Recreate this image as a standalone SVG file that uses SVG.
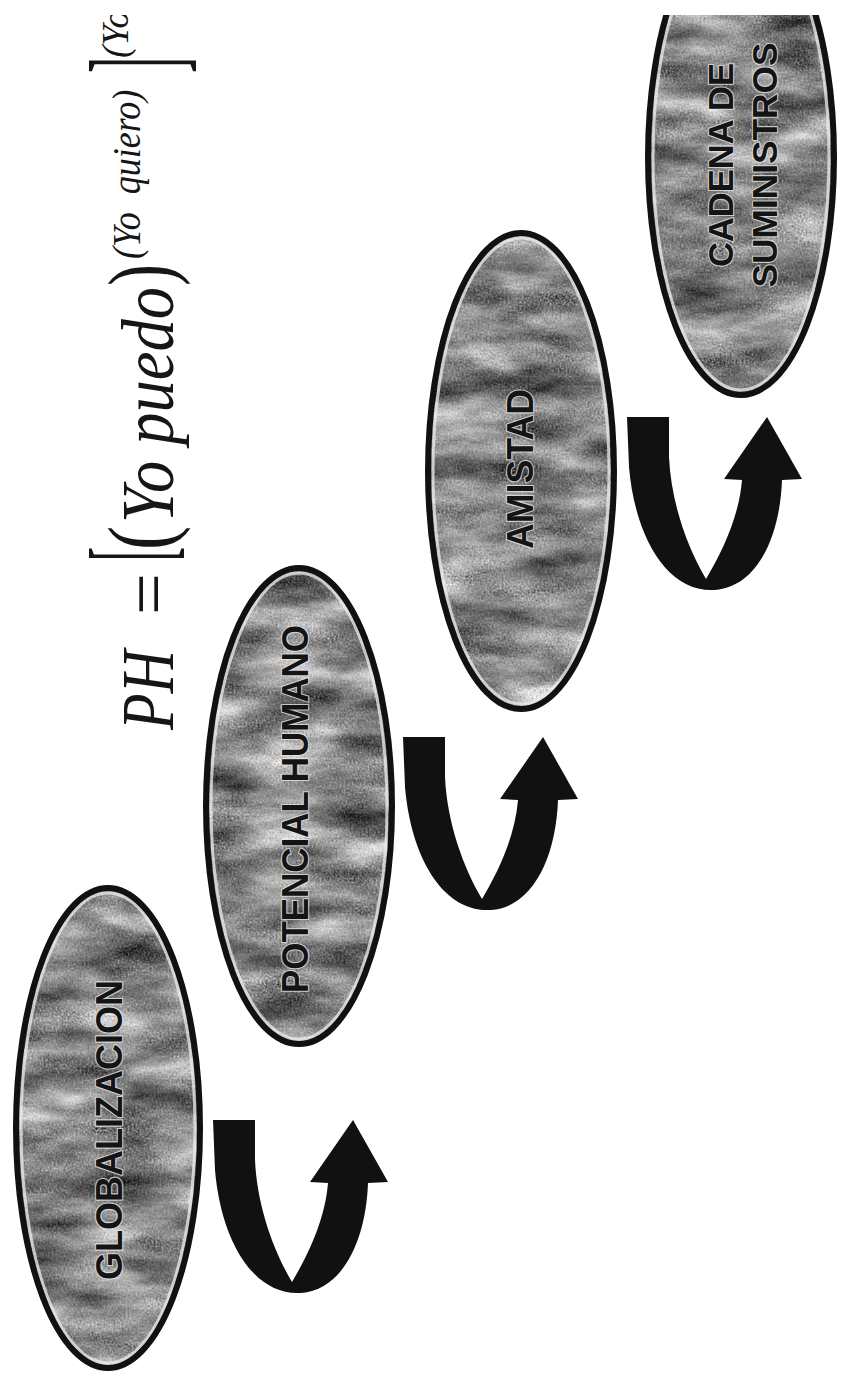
<svg xmlns="http://www.w3.org/2000/svg" xmlns:xlink="http://www.w3.org/1999/xlink" width="843" height="1383" viewBox="0 0 843 1383">
  <style>
    .fill { fill: #000; }
    .border { fill: none; stroke: #111; stroke-width: 6; }
    .rim { fill: none; stroke: #eeeeee; stroke-width: 3; stroke-opacity: 0.75; }
    .label { font-family: "Liberation Sans", Arial, sans-serif; font-weight: bold; fill: #141414; stroke: #e6e6e6; stroke-width: 2.2; stroke-opacity: 0.8; stroke-linejoin: round; paint-order: stroke; text-anchor: middle; }
    .f { font-family: "Liberation Serif", "Times New Roman", serif; fill: #161616; }
    .it { font-style: italic; }
    .arrow { fill: #111; }
  </style>
  <defs>
    <filter id="grain" x="0" y="0" width="1" height="1" color-interpolation-filters="sRGB">
      <feTurbulence type="fractalNoise" baseFrequency="0.012 0.035" numOctaves="4" seed="7" result="bands"/>
      <feTurbulence type="fractalNoise" baseFrequency="0.5" numOctaves="2" seed="3" result="speck"/>
      <feComposite in="bands" in2="speck" operator="arithmetic" k1="0" k2="0.75" k3="0.3" k4="-0.05" result="mix"/>
      <feColorMatrix in="mix" type="matrix" values="1 0 0 0 0  1 0 0 0 0  1 0 0 0 0  0 0 0 0 1" result="gray"/>
      <feComponentTransfer in="gray" result="contrast">
        <feFuncR type="linear" slope="1.25" intercept="-0.03"/>
        <feFuncG type="linear" slope="1.25" intercept="-0.03"/>
        <feFuncB type="linear" slope="1.25" intercept="-0.03"/>
      </feComponentTransfer>
      <feComposite in="contrast" in2="SourceGraphic" operator="in"/>
    </filter>
    <clipPath id="clipTop">
      <rect x="0" y="15" width="843" height="1368"/>
    </clipPath>
    <path id="uarrow" d="M0,0 L42,0 L42,40 C44,85 60,130 79,162 C95,135 112,100 115,63 L97,62 L140,0 L175,62 L155,63 C153,120 130,170 88,173 C40,176 8,120 2,50 Z"/>
  </defs>

  <rect x="0" y="0" width="843" height="1383" fill="#ffffff"/>

  <g id="formula" clip-path="url(#clipTop)">
    <text class="f it" font-size="75" textLength="80" lengthAdjust="spacingAndGlyphs" transform="translate(173,730) rotate(-90)">PH</text>
    <text class="f" font-size="75" textLength="42" lengthAdjust="spacingAndGlyphs" transform="translate(173,615) rotate(-90)">=</text>
    <text class="f" font-size="115" textLength="14" lengthAdjust="spacingAndGlyphs" transform="translate(169,561) rotate(-90)">[</text>
    <text class="f" font-size="90" textLength="24" lengthAdjust="spacingAndGlyphs" transform="translate(171,550) rotate(-90)">(</text>
    <text class="f it" font-size="75" textLength="236" lengthAdjust="spacingAndGlyphs" transform="translate(173,523) rotate(-90)">Yo puedo</text>
    <text class="f" font-size="90" textLength="22" lengthAdjust="spacingAndGlyphs" transform="translate(171,286) rotate(-90)">)</text>
    <text class="f it" font-size="40" transform="translate(140,259) rotate(-90) scale(0.9,1)">(Yo<tspan dx="10"> quiero)</tspan></text>
    <text class="f" font-size="130" textLength="16" lengthAdjust="spacingAndGlyphs" transform="translate(179,73) rotate(-90)">]</text>
    <text class="f it" font-size="38" textLength="48" lengthAdjust="spacingAndGlyphs" transform="translate(128,58) rotate(-90)">(Yo</text>
  </g>

  <g id="node-globalizacion">
    <ellipse class="fill" filter="url(#grain)" cx="108" cy="1128" rx="92" ry="240"/>
    <ellipse class="rim" cx="108" cy="1128" rx="87" ry="235"/>
    <ellipse class="border" cx="108" cy="1128" rx="92" ry="240"/>
    <text class="label" font-size="37" textLength="300" lengthAdjust="spacingAndGlyphs" transform="translate(122,1130) rotate(-90)">GLOBALIZACION</text>
  </g>

  <g id="node-potencial-humano">
    <ellipse class="fill" filter="url(#grain)" cx="299" cy="806" rx="93" ry="238"/>
    <ellipse class="rim" cx="299" cy="806" rx="88" ry="233"/>
    <ellipse class="border" cx="299" cy="806" rx="93" ry="238"/>
    <text class="label" font-size="37" textLength="368" lengthAdjust="spacingAndGlyphs" transform="translate(308,809) rotate(-90)">POTENCIAL HUMANO</text>
  </g>

  <g id="node-amistad">
    <ellipse class="fill" filter="url(#grain)" cx="521" cy="471" rx="93" ry="238"/>
    <ellipse class="rim" cx="521" cy="471" rx="88" ry="233"/>
    <ellipse class="border" cx="521" cy="471" rx="93" ry="238"/>
    <text class="label" font-size="37" textLength="160" lengthAdjust="spacingAndGlyphs" transform="translate(533,469) rotate(-90)">AMISTAD</text>
  </g>

  <g id="node-cadena-de-suministros" clip-path="url(#clipTop)">
    <ellipse class="fill" filter="url(#grain)" cx="741" cy="157" rx="93" ry="238"/>
    <ellipse class="rim" cx="741" cy="157" rx="88" ry="233"/>
    <ellipse class="border" cx="741" cy="157" rx="93" ry="238"/>
    <text class="label" font-size="35" textLength="204" lengthAdjust="spacingAndGlyphs" transform="translate(733,165) rotate(-90)">CADENA DE</text>
    <text class="label" font-size="35" textLength="245" lengthAdjust="spacingAndGlyphs" transform="translate(777,165) rotate(-90)">SUMINISTROS</text>
  </g>

  <g id="connectors">
    <use xlink:href="#uarrow" href="#uarrow" class="arrow" transform="translate(213,1120)"/>
    <use xlink:href="#uarrow" href="#uarrow" class="arrow" transform="translate(403,737)"/>
    <use xlink:href="#uarrow" href="#uarrow" class="arrow" transform="translate(627,417)"/>
  </g>
</svg>
